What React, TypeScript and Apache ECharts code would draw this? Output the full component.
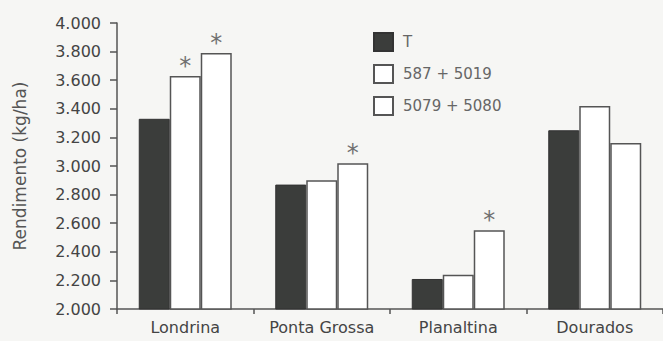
import React, { useEffect, useRef } from "react";
import * as echarts from "echarts";

const categories = ["Londrina", "Ponta Grossa", "Planaltina", "Dourados"];
const seriesNames = ["T", "587 + 5019", "5079 + 5080"];
const valuesT = [3330, 2870, 2210, 3250];
const values587 = [3630, 2900, 2240, 3420];
const values5079 = [3790, 3020, 2550, 3160];
const signif587 = [true, false, false, false];
const signif5079 = [true, true, true, false];
const yTicks = [2000, 2200, 2400, 2600, 2800, 3000, 3200, 3400, 3600, 3800, 4000];

const FONT = "DejaVu Sans";

function withStar(values: number[], flags: boolean[]) {
  return values.map((v, i) => ({
    value: v,
    label: {
      show: flags[i],
      position: "top",
      distance: -2,
      formatter: "*",
      fontSize: 24,
      color: "#707070",
      fontFamily: FONT,
    },
  }));
}

export default function App() {
  const ref = useRef<HTMLDivElement>(null);
  useEffect(() => {
    document.body.style.margin = "0";
    if (!ref.current) return;
    const chart = echarts.init(ref.current, undefined, { renderer: "svg" });
    chart.setOption({
      animation: false,
      backgroundColor: "#f6f6f4",
      textStyle: { fontFamily: FONT },
      grid: { left: 117, top: 23, width: 556, bottom: 32, containLabel: false },
      legend: {
        orient: "vertical",
        left: 373,
        top: 32,
        padding: 0,
        itemWidth: 19,
        itemHeight: 18,
        itemGap: 12,
        icon: "rect",
        data: seriesNames,
        textStyle: { color: "#666", fontSize: 15, fontFamily: FONT, padding: [0, 0, 0, 5] },
      },
      xAxis: {
        type: "category",
        data: categories,
        boundaryGap: true,
        axisLine: { lineStyle: { color: "#555", width: 1.5 } },
        axisTick: { show: true, interval: 0, length: 5, lineStyle: { color: "#555", width: 1.5 } },
        axisLabel: { interval: 0, color: "#444", fontSize: 16, fontFamily: FONT, margin: 10 },
      },
      yAxis: {
        type: "value",
        min: 2000,
        max: 4000,
        interval: 200,
        name: "Rendimento (kg/ha)",
        nameLocation: "middle",
        nameRotate: 90,
        nameGap: 89,
        nameTextStyle: { color: "#555", fontSize: 17, fontFamily: FONT },
        splitLine: { show: false },
        axisLine: { show: true, lineStyle: { color: "#555", width: 1.5 } },
        axisTick: { show: true, length: 7, lineStyle: { color: "#555", width: 1.5 } },
        axisLabel: {
          color: "#444",
          fontSize: 16,
          fontFamily: FONT,
          margin: 16,
          formatter: (v: number) => (yTicks.includes(v) ? (v / 1000).toFixed(3) : ""),
        },
      },
      series: [
        {
          name: seriesNames[0],
          type: "bar",
          data: valuesT,
          barWidth: 31,
          barGap: "0%",
          itemStyle: { color: "#3b3d3b", borderColor: "#333", borderWidth: 1 },
        },
        {
          name: seriesNames[1],
          type: "bar",
          data: withStar(values587, signif587),
          barWidth: 31,
          barGap: "0%",
          itemStyle: { color: "#ffffff", borderColor: "#555", borderWidth: 1.5 },
        },
        {
          name: seriesNames[2],
          type: "bar",
          data: withStar(values5079, signif5079),
          barWidth: 31,
          barGap: "0%",
          itemStyle: { color: "#ffffff", borderColor: "#555", borderWidth: 1.5 },
        },
      ],
    });
    return () => chart.dispose();
  }, []);
  return <div ref={ref} style={{ width: 663, height: 341 }} />;
}
